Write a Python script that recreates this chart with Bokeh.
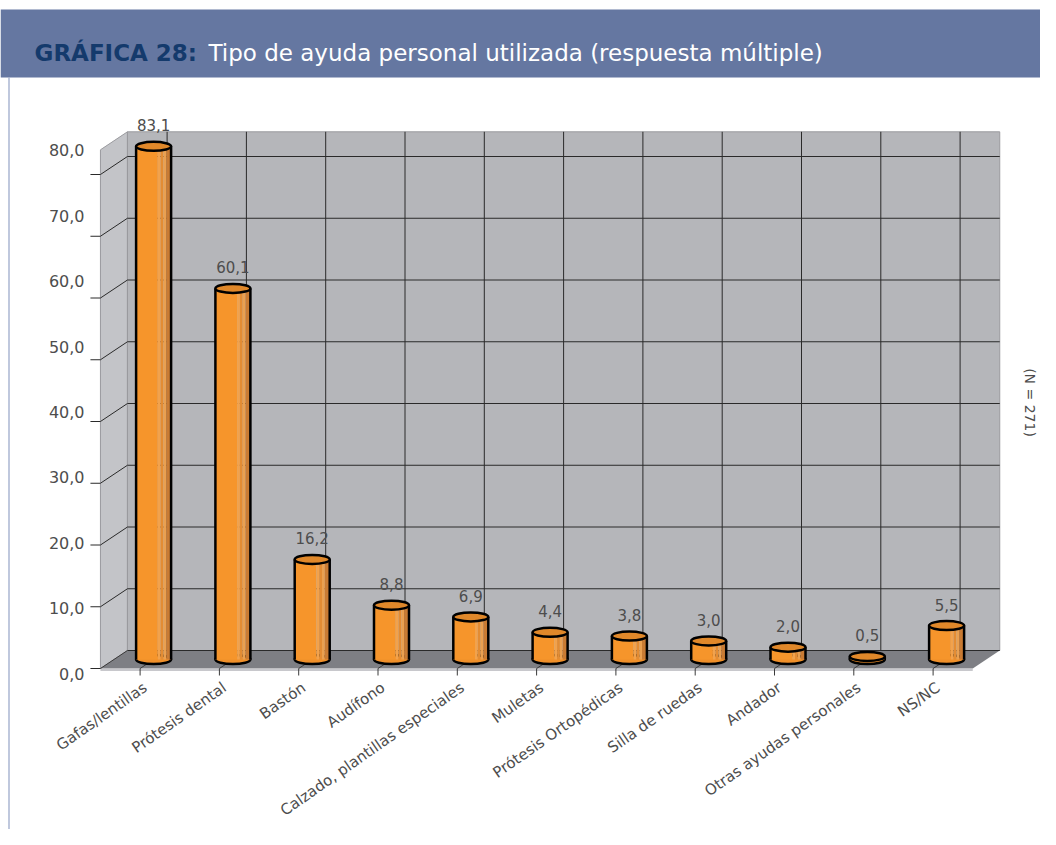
from bokeh.plotting import figure
from bokeh.models import Range1d, Label
from bokeh.core.properties import value
from bokeh.embed import file_html
from bokeh.resources import INLINE

# ---------------- data ----------------
categories = ["Gafas/lentillas", "Prótesis dental", "Bastón", "Audífono",
              "Calzado, plantillas especiales", "Muletas", "Prótesis Ortopédicas",
              "Silla de ruedas", "Andador", "Otras ayudas personales", "NS/NC"]
values = [83.1, 60.1, 16.2, 8.8, 6.9, 4.4, 3.8, 3.0, 2.0, 0.5, 5.5]
y_ticks = [0, 10, 20, 30, 40, 50, 60, 70, 80]
y_tick_labels = ["0,0", "10,0", "20,0", "30,0", "40,0", "50,0", "60,0", "70,0", "80,0"]
title_bold = "GRÁFICA 28:"
title_rest = "Tipo de ayuda personal utilizada (respuesta múltiple)"
note = "(N = 271)"
value_labels = [f"{v:.1f}".replace(".", ",") for v in values]

# ---------------- layout constants ----------------
W, H = 1040, 829
SX = 79.3      # px per category
FX0 = 139.6    # px of first category (front plane)
SY = 6.175     # px per value unit
FY0 = H - 668  # px (from bottom) of value 0 (front plane)
FONT = "DejaVu Sans"
TXT = "#4d4d4d"


def dx(px):
    return (px - FX0) / SX


def dy(py):
    return (H - py - FY0) / SY


DX = 27 / SX
DY = 18 / SY
WALL_TOP = 84.0
N = len(categories)
idx = list(range(N))
XL, XR = -0.5, N - 0.5

p = figure(width=W, height=H, output_backend="svg", toolbar_location=None,
           x_range=Range1d(-FX0 / SX, (W - FX0) / SX),
           y_range=Range1d(-FY0 / SY, (H - FY0) / SY),
           x_axis_location=None, y_axis_location=None, min_border=0)
p.grid.visible = False
p.outline_line_color = None
p.background_fill_color = "white"
p.border_fill_color = "white"

# label range for y tick labels (spaced slightly differently from the ticks)
LSY = 6.54
LY0 = H - 673
p.extra_y_ranges = {"lab": Range1d(-LY0 / LSY, (H - LY0) / LSY)}

# ---------------- header ----------------
p.quad(left=[p.x_range.start], right=[p.x_range.end], top=[dy(9)], bottom=[dy(77)],
       fill_color="#6577a1", line_color=None)
p.add_layout(Label(x=dx(34), y=dy(52.5), text=title_bold, text_font=FONT,
                   text_font_style="bold", text_font_size="23px", text_color="#143a6c",
                   text_baseline="alphabetic"))
p.add_layout(Label(x=dx(208), y=dy(52.5), text=title_rest, text_font=FONT,
                   text_font_size="23px", text_color="white", text_baseline="alphabetic"))
p.segment(x0=[dx(8.5)], y0=[dy(77)], x1=[dx(8.5)], y1=[dy(850)],
          line_color="#95a3c6", line_width=1.2)

# ---------------- walls & floor ----------------
p.patch(x=[XL, XL + DX, XL + DX, XL], y=[0, DY, WALL_TOP + DY, WALL_TOP],
        fill_color="#c3c4c8", line_color="#9a9a9e", line_width=1)
p.quad(left=[XL + DX], right=[XR + DX], bottom=[DY], top=[WALL_TOP + DY],
       fill_color="#b5b6ba", line_color="#9a9a9e", line_width=1)
p.patch(x=[XL, XR, XR + DX, XL + DX], y=[0, 0, DY, DY],
        fill_color="#7e7f84", line_color=None)
p.segment(x0=[XL], y0=[-1.5 / SY], x1=[XR], y1=[-1.5 / SY], line_color="#c8c8cc", line_width=2)

grid_vals = [t for t in y_ticks if t > 0]
# horizontal gridlines on back wall
p.segment(x0=[XL + DX] * len(y_ticks), y0=[t + DY for t in y_ticks],
          x1=[XR + DX] * len(y_ticks), y1=[t + DY for t in y_ticks],
          line_color="#2a2a2a", line_width=1)
# side wall diagonals
p.segment(x0=[XL] * len(grid_vals), y0=grid_vals,
          x1=[XL + DX] * len(grid_vals), y1=[t + DY for t in grid_vals],
          line_color="#2a2a2a", line_width=1)
p.segment(x0=[XL], y0=[0], x1=[XL + DX], y1=[DY], line_color="#3a3a3a", line_width=1)
# front ticks
TL = 10 / SX
p.segment(x0=[XL - TL] * len(y_ticks), y0=y_ticks, x1=[XL] * len(y_ticks), y1=y_ticks,
          line_color="#2a2a2a", line_width=1)
# vertical gridlines on back wall
p.segment(x0=[i + DX for i in idx], y0=[DY] * N, x1=[i + DX for i in idx],
          y1=[WALL_TOP + DY] * N, line_color="#2a2a2a", line_width=1)
# category ticks on floor
p.segment(x0=idx, y0=[0] * N, x1=idx, y1=[-7 / SY] * N, line_color="#3a3a3a", line_width=1)
p.segment(x0=idx, y0=[0] * N, x1=[i + 0.3 * DX for i in idx], y1=[0.3 * DY] * N,
          line_color="#3a3a3a", line_width=1)

# ---------------- cylinders ----------------
BW = 35 / SX
EH = 9 / SY
cx = [i + DX / 2 for i in idx]
base = DY / 2
tops = [base + v for v in values]

p.ellipse(x=cx, y=[base] * N, width=BW, height=EH, fill_color="#f0902a",
          line_color="black", line_width=2.5)
strips = [(0.0, 0.62, "#f6952b"), (0.62, 0.70, "#f2a24c"), (0.70, 0.78, "#e38c33"),
          (0.78, 0.86, "#eaa050"), (0.86, 1.0, "#c97b33")]
for f0, f1, col in strips:
    p.quad(left=[c - BW / 2 + f0 * BW for c in cx], right=[c - BW / 2 + f1 * BW for c in cx],
           bottom=[base] * N, top=tops, fill_color=col, line_color=None)
p.segment(x0=[c - BW / 2 for c in cx], y0=[base] * N, x1=[c - BW / 2 for c in cx], y1=tops,
          line_color="black", line_width=2.5)
p.segment(x0=[c + BW / 2 for c in cx], y0=[base] * N, x1=[c + BW / 2 for c in cx], y1=tops,
          line_color="black", line_width=2.5)
p.ellipse(x=cx, y=tops, width=BW, height=EH, fill_color="#e0882a",
          line_color="black", line_width=2.5)

# ---------------- texts ----------------
p.text(x=cx, y=[t + 21 / SY for t in tops], text=value_labels, text_font=value(FONT),
       text_font_size="15px", text_color=TXT, text_align="center", text_baseline="middle")
p.text(x=[dx(84)] * len(y_ticks), y=y_ticks, text=y_tick_labels, text_font=value(FONT),
       text_font_size="16px", text_color=TXT, text_align="right", text_baseline="middle",
       y_range_name="lab")
p.text(x=idx, y=[-10 / SY] * N, text=categories, text_font=value(FONT),
       text_font_size="15px", text_color=TXT, text_align="right", text_baseline="top",
       angle=35, angle_units="deg")
p.add_layout(Label(x=dx(1029), y=dy(402), text=note, text_font=FONT, text_font_size="14px",
                   text_color=TXT, text_align="center", text_baseline="middle",
                   angle=-90, angle_units="deg"))

open("out.html", "w").write(file_html(p, INLINE))
